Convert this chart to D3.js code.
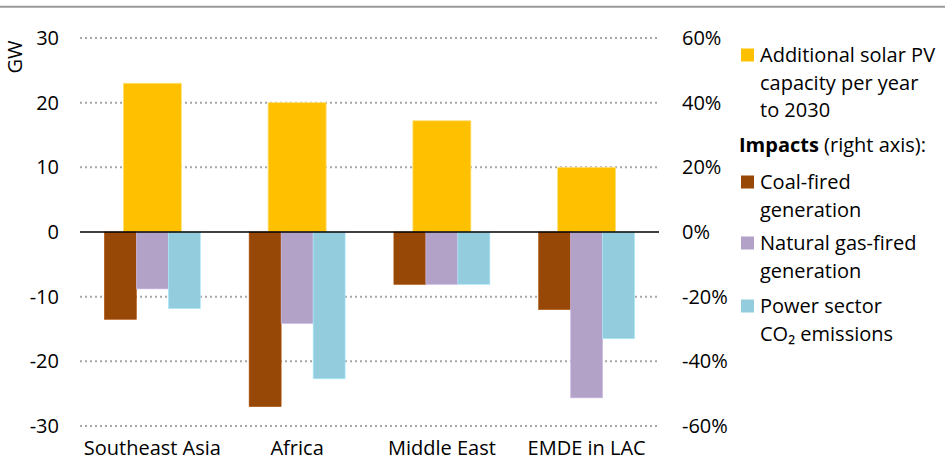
<!DOCTYPE html>
<html>
<head>
<meta charset="utf-8">
<script src="https://cdn.jsdelivr.net/npm/d3@7"></script>
<style>
  body { margin: 0; background: #fff; }
  text { font-family: 'Open Sans', 'Noto Sans', sans-serif; fill: #000; }
</style>
</head>
<body>
<svg id="chart" width="945" height="462"></svg>
<script>
var categories = ['Southeast Asia', 'Africa', 'Middle East', 'EMDE in LAC'];
var solarGW = [23, 20, 17.2, 10];
var coalPct = [-27, -54, -16.2, -24];
var gasPct = [-17.6, -28.3, -16.2, -51.3];
var co2Pct = [-23.7, -45.4, -16.2, -33];
var leftTicks = [-30, -20, -10, 0, 10, 20, 30];
var rightTicks = [-60, -40, -20, 0, 20, 40, 60];

var impactSeries = [
  { key: 'coal', vals: coalPct, color: '#974706' },
  { key: 'gas', vals: gasPct, color: '#B3A2C7' },
  { key: 'co2', vals: co2Pct, color: '#93CDDD' }
];

var svg = d3.select('#chart');
var x0 = 80, x1 = 659, yTop = 38, yBot = 426;
var fs = 20;

// top rule
svg.append('line')
  .attr('x1', 0).attr('x2', 945).attr('y1', 6.7).attr('y2', 6.7)
  .attr('stroke', '#9a9a9a').attr('stroke-width', 2);

var xSc = d3.scaleBand().domain(categories).range([x0, x1]);
var ySc = d3.scaleLinear().domain([-30, 30]).range([yBot, yTop]);
var yR = d3.scaleLinear().domain([-60, 60]).range([yBot, yTop]);
var inner = d3.scaleBand().domain(impactSeries.map((s) => s.key))
  .range([-48, 48]);
var solarW = 58;

// dotted gridlines
svg.append('g')
  .selectAll('line')
  .data(leftTicks.filter((t) => t !== 0))
  .enter()
  .append('line')
  .attr('x1', x0).attr('x2', x1)
  .attr('y1', (d) => ySc(d)).attr('y2', (d) => ySc(d))
  .attr('stroke', '#a6a6a6')
  .attr('stroke-width', 2)
  .attr('stroke-dasharray', '2,3');

// solar bars (left axis)
svg.append('g')
  .selectAll('rect')
  .data(categories)
  .enter()
  .append('rect')
  .attr('x', (d) => xSc(d) + xSc.bandwidth() / 2 - solarW / 2)
  .attr('width', solarW)
  .attr('y', (d, i) => ySc(solarGW[i]))
  .attr('height', (d, i) => ySc(0) - ySc(solarGW[i]))
  .attr('fill', '#FFC000')
  .attr('stroke', '#FFE07a').attr('stroke-width', 0.8);

// impact bars (right axis)
impactSeries.forEach((s) => {
  svg.append('g')
    .selectAll('rect')
    .data(categories)
    .enter()
    .append('rect')
    .attr('x', (d) => xSc(d) + xSc.bandwidth() / 2 + inner(s.key))
    .attr('width', inner.bandwidth())
    .attr('y', yR(0))
    .attr('height', (d, i) => yR(s.vals[i]) - yR(0))
    .attr('fill', s.color)
    .attr('stroke', d3.color(s.color).brighter(0.4)).attr('stroke-width', 0.6);
});

// zero line
svg.append('line')
  .attr('x1', x0).attr('x2', x1)
  .attr('y1', ySc(0)).attr('y2', ySc(0))
  .attr('stroke', '#000').attr('stroke-width', 1.5);

// left axis labels
svg.append('g')
  .selectAll('text')
  .data(leftTicks)
  .enter()
  .append('text')
  .attr('x', 59)
  .attr('y', (d) => ySc(d))
  .attr('dy', '0.35em')
  .attr('text-anchor', 'end')
  .attr('font-size', fs)
  .text((d) => d);

// right axis labels
svg.append('g')
  .selectAll('text')
  .data(rightTicks)
  .enter()
  .append('text')
  .attr('x', 682)
  .attr('y', (d) => yR(d))
  .attr('dy', '0.35em')
  .attr('font-size', fs)
  .text((d) => d + '%');

// GW title
svg.append('text')
  .attr('transform', 'translate(22,57) rotate(-90)')
  .attr('text-anchor', 'middle')
  .attr('font-size', fs)
  .text('GW');

// category labels
svg.append('g')
  .selectAll('text')
  .data(categories)
  .enter()
  .append('text')
  .attr('x', (d) => xSc(d) + xSc.bandwidth() / 2)
  .attr('y', 448)
  .attr('dy', '0.35em')
  .attr('text-anchor', 'middle')
  .attr('font-size', fs)
  .text((d) => d);

// legend
var legend = [
  { color: '#FFC000', lines: ['Additional solar PV', 'capacity per year', 'to 2030'], y: 55 },
  { color: null, lines: [], y: 145 },
  { color: '#974706', lines: ['Coal-fired', 'generation'], y: 182 },
  { color: '#B3A2C7', lines: ['Natural gas-fired', 'generation'], y: 243 },
  { color: '#93CDDD', lines: ['Power sector', 'CO\u2082 emissions'], y: 306 }
];
var lg = svg.append('g');
legend.forEach((item) => {
  if (item.color) {
    lg.append('rect')
      .attr('x', 741).attr('y', item.y - 6.5)
      .attr('width', 13).attr('height', 13)
      .attr('fill', item.color);
    item.lines.forEach((ln, j) => {
      lg.append('text')
        .attr('x', 760)
        .attr('y', item.y + j * 27.5)
        .attr('dy', '0.35em')
        .attr('font-size', fs)
        .text(ln);
    });
  } else {
    var t = lg.append('text')
      .attr('x', 739)
      .attr('y', item.y)
      .attr('dy', '0.35em')
      .attr('font-size', fs);
    t.append('tspan').attr('font-weight', 'bold').text('Impacts');
    t.append('tspan').text(' (right axis):');
  }
});
</script>
</body>
</html>
